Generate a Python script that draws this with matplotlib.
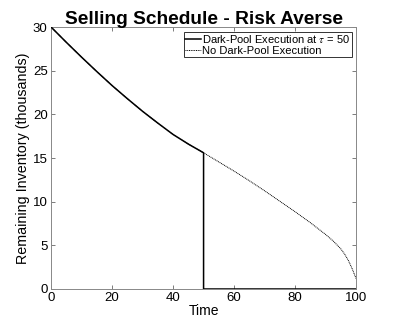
import matplotlib
matplotlib.use("Agg")
import matplotlib.pyplot as plt

plt.rcParams['font.family'] = ['Liberation Sans', 'DejaVu Sans']
plt.rcParams['mathtext.fontset'] = 'stix'

# Data
time = [0, 5, 10, 15, 20, 25, 30, 35, 40, 45, 50,
        55, 60, 65, 70, 75, 80, 85, 90, 92.5, 95, 96.25, 97.5, 98.75, 100]
no_dark = [30.0, 28.25, 26.55, 24.9, 23.3, 21.8, 20.35, 19.0, 17.7, 16.6, 15.6,
           14.55, 13.5, 12.4, 11.25, 10.05, 8.85, 7.6, 6.25, 5.5, 4.6, 4.0, 3.25, 2.3, 1.2]
tau = 50
dark_time = time[:11] + [50, 100]
dark_vals = no_dark[:11] + [0, 0]

xticks = [0, 20, 40, 60, 80, 100]
yticks = [0, 5, 10, 15, 20, 25, 30]

fig = plt.figure(figsize=(3.93, 3.26), dpi=100)
ax = fig.add_axes([0.130, 0.1135, 0.776, 0.8035])

ax.plot(dark_time, dark_vals, color='black', lw=1.1, solid_joinstyle='miter',
        label=r'Dark-Pool Execution at $\tau$ = 50', zorder=3)
ax.plot(time, no_dark, color='black', lw=0.7, linestyle=(0, (1, 0.8)),
        label='No Dark-Pool Execution', zorder=2)

ax.set_xlim(0, 100)
ax.set_ylim(0, 30)
ax.set_xticks(xticks)
ax.set_yticks(yticks)
ax.tick_params(direction='in', top=True, right=True, length=3, width=0.6,
               color='#666666', labelsize=9.5, pad=2.5)
for s in ax.spines.values():
    s.set_color('#888888')
    s.set_linewidth(0.7)

ax.set_xlabel('Time', fontsize=10, labelpad=0)
ax.set_ylabel('Remaining Inventory (thousands)', fontsize=10.3, labelpad=2)
ax.set_title('Selling Schedule - Risk Averse', fontsize=13.8, fontweight='bold', pad=2)

leg = ax.legend(loc='upper right', fontsize=8, frameon=True, fancybox=False,
                edgecolor='black', borderpad=0.15, handlelength=1.4,
                handletextpad=0.1, labelspacing=0.05, borderaxespad=0.4)
leg.get_frame().set_linewidth(0.7)

fig.savefig('out.png', dpi=100)
